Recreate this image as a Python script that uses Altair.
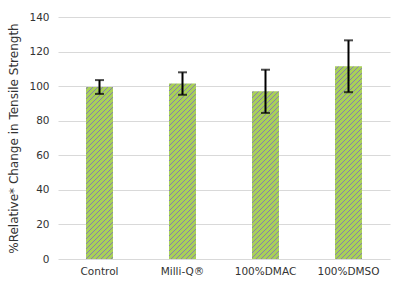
import math
import altair as alt
import pandas as pd

categories = ["Control", "Milli-Q®", "100%DMAC", "100%DMSO"]
means = [99.5, 101.5, 97.0, 111.5]
errors = [4.0, 6.5, 12.5, 15.0]
y_ticks = [0, 20, 40, 60, 80, 100, 120, 140]

PAD_L, PAD_T, PAD_R, PAD_B = 58, 17, 10, 26
PLOT_W, PLOT_H = 332, 242
Y_MAX = 140
PAD_INNER = 0.675
STEP = PLOT_W / len(categories)
BAR_W = STEP * (1 - PAD_INNER)

GREEN = "#a8d058"
PURPLE = "#857db0"
SPACING = 5  # hatch repeat, in x+y pixel units
LINE_W = 1.0

df = pd.DataFrame({"cat": categories, "mean": means, "err": errors})
df["lo"] = df["mean"] - df["err"]
df["hi"] = df["mean"] + df["err"]


def hatch(index, value):
    w = BAR_W
    h = value / Y_MAX * PLOT_H
    x0 = PAD_L + STEP * (PAD_INNER / 2 + index)
    y0 = PAD_T + PLOT_H - h
    k = (w + h) / (w * w + h * h)
    x2, y2 = k * w, k * h
    L = (w + h) / math.sqrt(2)
    stops = [{"offset": 0, "color": GREEN}]
    start = math.ceil((x0 + y0) / SPACING) * SPACING
    K = start
    while True:
        s = (K - x0 - y0) / math.sqrt(2)
        a = (s - LINE_W / 2) / L
        b = (s + LINE_W / 2) / L
        if b >= 1:
            break
        if a > 0:
            stops += [
                {"offset": a, "color": GREEN},
                {"offset": a, "color": PURPLE},
                {"offset": b, "color": PURPLE},
                {"offset": b, "color": GREEN},
            ]
        K += SPACING
    stops.append({"offset": 1, "color": GREEN})
    return {"gradient": "linear", "x1": 0, "y1": 0, "x2": x2, "y2": y2, "stops": stops}


xscale = alt.Scale(paddingInner=PAD_INNER, paddingOuter=PAD_INNER / 2)
xaxis = alt.Axis(labelAngle=0, ticks=False, domain=False, labelPadding=7, grid=False)
yscale = alt.Scale(domain=[0, Y_MAX], nice=False)
yaxis = alt.Axis(values=y_ticks, ticks=False, domain=False, labelPadding=9,
                 titlePadding=8, grid=True, gridColor="#d9d9d9", labelOverlap=False)
YTITLE = "%Relative* Change in Tensile Strength"


def X():
    return alt.X("cat:N", sort=categories, title=None, scale=xscale, axis=xaxis)


def Y(field):
    return alt.Y(field, title=YTITLE, scale=yscale, axis=yaxis)


base = alt.Chart(df)
bars = [
    base.transform_filter(alt.datum.cat == c)
    .mark_bar(fill=hatch(i, m))
    .encode(x=X(), y=Y("mean:Q"))
    for i, (c, m) in enumerate(zip(categories, means))
]

rules = base.mark_rule(color="black", strokeWidth=2).encode(
    x=X(), y=Y("lo:Q"), y2="hi:Q"
)
caps_lo = base.mark_tick(color="black", thickness=2, size=9).encode(x=X(), y=Y("lo:Q"))
caps_hi = base.mark_tick(color="black", thickness=2, size=9).encode(x=X(), y=Y("hi:Q"))

chart = (
    alt.layer(*bars, rules, caps_lo, caps_hi)
    .properties(
        width=PLOT_W,
        height=PLOT_H,
        autosize=alt.AutoSizeParams(type="none"),
        padding={"left": PAD_L, "top": PAD_T, "right": PAD_R, "bottom": PAD_B},
    )
    .configure_view(stroke=None)
    .configure_axis(
        labelFont="DejaVu Sans",
        titleFont="DejaVu Sans",
        labelFontSize=10.5,
        titleFontSize=12,
        titleFontWeight="normal",
        labelColor="#333333",
        titleColor="#333333",
    )
)

chart.save("out.html", embed_options={"renderer": "svg", "actions": False})
